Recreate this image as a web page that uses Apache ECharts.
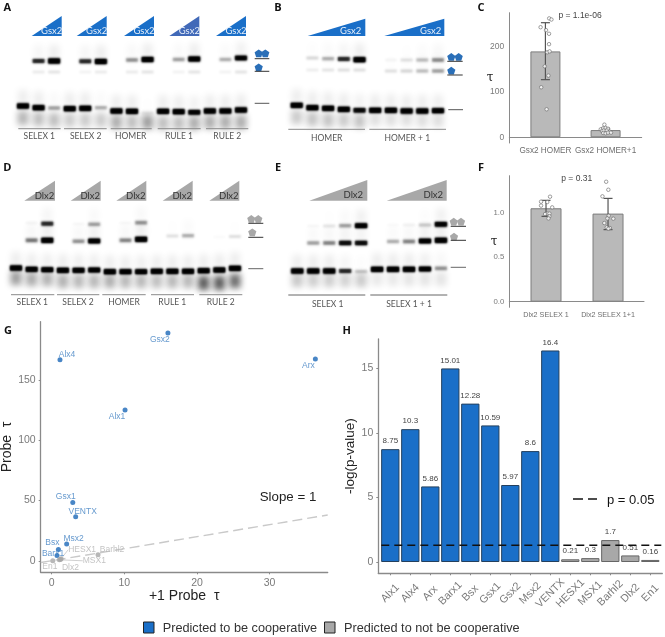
<!DOCTYPE html>
<html><head><meta charset="utf-8">
<style>html,body{margin:0;padding:0;background:#fff}#c{width:665px;height:637px}</style>
<script src="https://cdn.jsdelivr.net/npm/echarts@6/dist/echarts.min.js"></script>
</head><body><div id="c"></div>
<script>
// ---------- gel A ----------
const gelA_freeMig = [66,67.7,68,68.7,68.3,67.7,71,71.3,73,71.3,71.7,72.3,71,71,70];
const gelA_freeInt = [1,1,.35,1,1,.3,1,1,.08,1,1,.8,1,1,1];
const gelA_upperMig = [21,21,21,21,21.3,21.5,21,20,19.5,21,19.5,19,21,19.5,18];
const gelA_upperInt = [0,.55,1,0,.55,1,0,.4,1,0,.35,.95,0,.3,.8];
const gelA_lowerMig = [32,32,32,32,32,32,32,32,32,32,32,32,32,32,32];
const gelA_lowerInt = [0,.08,.1,0,.05,.08,0,.08,.1,0,.05,.1,0,.05,.1];
const gelA_smearMig = [78,79,80,80,80,80,82,82,82,83,83,83,82,82,82];
const gelA_smearInt = [.22,.2,.2,.16,.16,.16,.25,.2,.3,.2,.2,.25,.25,.25,.25];
// ---------- gel B ----------
const gelB_freeMig = [65.3,67.7,68.3,69.3,70.3,70.3,70.3,71,71,70.7];
const gelB_freeInt = [1,1,1,1,.75,1,1,1,1,.95];
const gelB_upperMig = [18,18,18.7,19,19.7,20,20,20,20,20];
const gelB_upperInt = [0,.15,.3,.55,1,0,.04,.12,.25,.42];
const gelB_lowerMig = [30,30,30,30,30,31,31,31,31,31];
const gelB_lowerInt = [0,.07,.1,.12,.12,0,.12,.16,.25,.35];
const gelB_smearMig = [77,79,80,80,81,79,79,79,80,80];
const gelB_smearInt = [.16,.18,.18,.16,.18,.1,.1,.1,.1,.1];
// ---------- gel D ----------
const gelD_freeMig = [68,69.3,69.7,70.3,70.3,70,71.7,71.7,71.7,71.3,71.3,71.3,70.7,70,68.3];
const gelD_freeInt = [1,.95,.9,1,.95,.9,1,.95,.9,1,1,1,1,1,1];
const gelD_midMig = [40,40.3,40.3,41,41.3,41,40,40.3,39.3,36,36,35.7,37,37,36.5];
const gelD_midInt = [0,.5,1,0,.4,.85,0,.45,1,0,.12,.3,0,.02,.12];
const gelD_topMig = [23,23,23.7,24,24,24.3,23,23,22.7,23,23,23,23,23,23];
const gelD_topInt = [0,.04,.55,0,.03,.35,0,.03,.4,0,0,0,0,0,0];
const gelD_smearMig = [78,79,79,81,81,81,81,81,81,81,81,81,83,83,81];
const gelD_smearInt = [.3,.26,.24,.24,.22,.22,.25,.22,.22,.2,.22,.22,.5,.5,.45];
// ---------- gel E ----------
const gelE_freeMig = [71,71,71,71,71.5,69.3,69.3,69.3,69,68.3];
const gelE_freeInt = [1,1,1,.55,.2,1,1,1,.85,.4];
const gelE_midMig = [43,43,43,43,43,41.5,41.5,41.5,41,40.3];
const gelE_midInt = [0,.35,.45,.7,.7,0,.3,.45,.85,1];
const gelE_topMig = [26,26,26,25.7,25.7,25,25,25,25,24.3];
const gelE_topInt = [0,.03,.1,.35,.85,0,.02,.05,.2,.8];
const gelE_smearMig = [80,80,80,80,80,79,79,79,79,79];
const gelE_smearInt = [.17,.15,.15,.14,.16,.07,.07,.08,.08,.08];
// ---------- panel C ----------
const cCategories = ['Gsx2 HOMER','Gsx2 HOMER+1'];
const cMeans = [190,16];
const cErrors = [[127.5,253.5],[12,20]];
const cPoints1 = [[1.063,263],[1.10,260.5],[.92,243.5],[1.01,237],[1.06,229],[1.06,206],[1.03,188],[1.07,190],[.99,157],[1.05,136.5],[.93,110.7],[1.02,62]];
const cPoints2 = [[1.98,28],[1.92,17.7],[1.96,20],[2,20.6],[2.04,19],[1.94,14],[1.97,14.8],[2.02,14.8],[2.07,12.5],[1.96,9.6],[2,8.9],[2.04,10.3],[2.09,10.3]];
// ---------- panel F ----------
const fCategories = ['Dlx2 SELEX 1','Dlx2 SELEX 1+1'];
const fMeans = [1.05,.99];
const fErrors = [[.959,1.139],[.81,1.161]];
const fPoints1 = [[1.065,1.18],[.92,1.124],[1.02,1.12],[.92,1.08],[1.1,1.06],[1.02,.99],[.985,.985],[1.055,.99],[1.055,.96],[1.04,.936]];
const fPoints2 = [[1.97,1.348],[2.005,1.258],[1.91,1.184],[2.01,.966],[2.085,.933],[1.94,.884],[1.99,.936],[1.98,.835],[2.03,.828],[2.005,.82]];
// ---------- panel G ----------
const gNames = ['Gsx2','Alx4','Arx','Alx1','Gsx1','VENTX','Msx2','Bsx','Barx1','HESX1','MSX1','Barhl2','Dlx2','En1'];
const gPlus1 = [16,1.14,36.3,10.1,2.9,3.3,2.06,.92,.73,1.3,1.05,6.38,1.2,.15];
const gProbe = [189.3,167,167.7,125.3,48.5,36.6,13.9,9.4,4.4,1.7,.8,5,1,0];
const gCooperative = [1,1,1,1,1,1,1,1,1,0,0,0,0,0];
const gSlopeLine = [[-1.5,-1.5],[38,38]];
// ---------- panel H ----------
const hCategories = ['Alx1','Alx4','Arx','Barx1','Bsx','Gsx1','Gsx2','Msx2','VENTX','HESX1','MSX1','Barhl2','Dlx2','En1'];
const hValues = [8.75,10.3,5.86,15.01,12.28,10.59,5.97,8.6,16.4,.21,.3,1.7,.51,.16];
const hThreshold = [[.55,1.3],[14.55,1.3]];

const BLUE='#1a6fc8', GREY='#a8a8a8';
const TICK='#7a7a7a', AXIS='#8a8a8a';
const gLabelOffsets=[[-8,7],[7,-5],[-7,7],[-8,7],[-7,-6],[7,-5],[7,-5],[-6,-7],[-4,-2],[21,-9],[35,1],[14,-5],[10,8],[-3,6]];
const gLeader={HESX1:1,MSX1:1};

function zip(...a){return a[0].map((_,i)=>a.map(r=>r[i]));}
const grids=[],xAxes=[],yAxes=[],series=[];
function addGrid(g,x,y){const i=grids.length;grids.push(Object.assign({outerBoundsMode:'none'},g));xAxes.push(Object.assign({gridIndex:i},x));yAxes.push(Object.assign({gridIndex:i},y));return i;}

// a purely blurred rectangle: only the (offset) shadow of an off-canvas shape lands on the canvas
const OFF=2000;
function softRect(cx,cy,w,h,a,blur){
  return {type:'rect',silent:true,shape:{x:cx-w/2-OFF,y:cy-h/2,width:w,height:h},
    style:{fill:'#000',shadowBlur:blur,shadowOffsetX:OFF,shadowColor:`rgba(0,0,0,${a})`}};
}
function bandItem(kind){return function(params,api){
  const p=api.coord([api.value(0),api.value(1)]),v=api.value(2);
  if(!(v>0))return null;
  const w=api.size([1,0])[0];
  if(kind==='smear'){
    return {type:'group',children:[
      softRect(p[0],p[1],w*.7,14,Math.min(1,v*1.3),6)]};
  }
  const a=Math.min(1,v*1.2);
  const kids=[softRect(p[0],p[1]-9,w*.6,14,v*.08,7),
    softRect(p[0],p[1],w*.76,2.6+2.6*Math.min(1,v),a,2.5)];
  if(v>.5)kids.push(softRect(p[0],p[1],w*.74,2.4+2.4*v,a,2));
  return {type:'group',children:kids};
};}
function addGel(left,spacing,top,height,layers,smear){
  const n=layers[0][0].length;
  const i=addGrid({left:left-spacing/2,width:n*spacing,top:top,height:height},
    {type:'value',min:.5,max:n+.5,show:false},
    {type:'value',min:0,max:height,inverse:true,show:false});
  const lane=Array.from({length:n},(_,k)=>k+1);
  series.push({type:'custom',xAxisIndex:i,yAxisIndex:i,clip:false,renderItem:bandItem('smear'),data:zip(lane,smear[0],smear[1]),silent:true});
  layers.forEach(l=>series.push({type:'custom',xAxisIndex:i,yAxisIndex:i,clip:false,renderItem:bandItem('band'),data:zip(lane,l[0],l[1]),silent:true}));
}
addGel(23,15.57,40,100,[[gelA_freeMig,gelA_freeInt],[gelA_upperMig,gelA_upperInt],[gelA_lowerMig,gelA_lowerInt]],[gelA_smearMig,gelA_smearInt]);
addGel(296.7,15.7,40,100,[[gelB_freeMig,gelB_freeInt],[gelB_upperMig,gelB_upperInt],[gelB_lowerMig,gelB_lowerInt]],[gelB_smearMig,gelB_smearInt]);
addGel(16,15.64,200,100,[[gelD_freeMig,gelD_freeInt],[gelD_midMig,gelD_midInt],[gelD_topMig,gelD_topInt]],[gelD_smearMig,gelD_smearInt]);
addGel(297.3,15.96,200,100,[[gelE_freeMig,gelE_freeInt],[gelE_midMig,gelE_midInt],[gelE_topMig,gelE_topInt]],[gelE_smearMig,gelE_smearInt]);

function errItem(color,cap){return function(p,api){
  const x=api.value(0),a=api.coord([x,api.value(1)]),b=api.coord([x,api.value(2)]);
  const st={stroke:color,lineWidth:1.2,fill:'none'};
  return {type:'group',children:[
    {type:'line',shape:{x1:a[0],y1:a[1],x2:b[0],y2:b[1]},style:st},
    {type:'line',shape:{x1:a[0]-cap,y1:a[1],x2:a[0]+cap,y2:a[1]},style:st},
    {type:'line',shape:{x1:b[0]-cap,y1:b[1],x2:b[0]+cap,y2:b[1]},style:st}]};
};}
function addBarPanel(grid,yMin,yMax,xMin,xMax,cats,means,errs,pts1,pts2,ticks,fmt,fs,tfs,barW){
  const i=addGrid(grid,
    {type:'value',min:xMin,max:xMax,splitLine:{show:false},axisLine:{lineStyle:{color:AXIS}},
     axisTick:{show:false},
     axisLabel:{customValues:[1,2],formatter:v=>cats[v-1],color:'#6e6e6e',fontSize:fs,fontFamily:'Liberation Sans',margin:4}},
    {type:'value',min:yMin,max:yMax,splitLine:{show:false},axisLine:{show:true,lineStyle:{color:AXIS}},
     axisTick:{show:false},
     axisLabel:{customValues:ticks,formatter:fmt,color:'#7a7a7a',fontSize:tfs,fontFamily:'Liberation Sans',margin:5}});
  series.push({type:'bar',xAxisIndex:i,yAxisIndex:i,barWidth:barW,data:means.map((m,k)=>[k+1,m]),
    itemStyle:{color:'#b9b9b9',borderColor:'#7d7d7d',borderWidth:1},silent:true});
  series.push({type:'custom',xAxisIndex:i,yAxisIndex:i,renderItem:errItem('#555',4.5),data:errs.map((e,k)=>[k+1,e[0],e[1]]),silent:true,z:4});
  series.push({type:'scatter',xAxisIndex:i,yAxisIndex:i,symbolSize:3.5,data:pts1.concat(pts2),
    itemStyle:{color:'#fff',borderColor:'#6a6a6a',borderWidth:.8},silent:true,z:5});
}
addBarPanel({left:509.3,width:132.4,top:12.7,height:130.3},-12.6,275.6,.4,2.6,cCategories,cMeans,cErrors,cPoints1,cPoints2,[0,100,200],v=>String(v),8.2,8.5,30);
addBarPanel({left:509.3,width:134.7,top:175.7,height:131.6},-.063,1.416,.408,2.58,fCategories,fMeans,fErrors,fPoints1,fPoints2,[0,.5,1],v=>v.toFixed(1),7.2,7.8,31);

// G
const gi=addGrid({left:40.7,width:287,top:321.7,height:250.6},
  {type:'value',min:-1.515,max:38,splitLine:{show:false},axisLine:{onZero:false,lineStyle:{color:AXIS,width:1.3}},
   axisTick:{customValues:[0,10,20,30],length:2,lineStyle:{color:AXIS}},
   axisLabel:{customValues:[0,10,20,30],color:TICK,fontSize:10.5,fontFamily:'Liberation Sans',margin:5},
   name:'+1 Probe  τ',nameLocation:'middle',nameGap:16,nameTextStyle:{fontSize:14,color:'#222',fontFamily:'Liberation Sans'}},
  {type:'value',min:-9.6,max:198.7,splitLine:{show:false},axisLine:{show:true,onZero:false,lineStyle:{color:AXIS,width:1.3}},
   axisTick:{customValues:[0,50,100,150],length:2,lineStyle:{color:AXIS}},
   axisLabel:{customValues:[0,50,100,150],color:TICK,fontSize:10.5,fontFamily:'Liberation Sans',margin:5},
   name:'Probe  τ',nameLocation:'middle',nameGap:22,nameTextStyle:{fontSize:14,color:'#222',fontFamily:'Liberation Sans'}});
series.push({type:'line',xAxisIndex:gi,yAxisIndex:gi,data:gSlopeLine,symbol:'none',silent:true,z:1,
  lineStyle:{color:'#c9c9c9',width:1.4,type:[10,5]}});
series.push({type:'scatter',xAxisIndex:gi,yAxisIndex:gi,symbolSize:5,silent:true,z:3,
  labelLayout:p=>({dx:gLabelOffsets[p.dataIndex][0],dy:gLabelOffsets[p.dataIndex][1]}),
  labelLine:{show:false},
  data:gNames.map((n,k)=>({value:[gPlus1[k],gProbe[k]],name:n,
    itemStyle:{color:gCooperative[k]?'#1c68b8':'#a6a6a6'},
    labelLine:{show:!!gLeader[n],lineStyle:{color:'#c4c4c4',width:.8}},
    label:{show:true,position:'inside',formatter:n,fontSize:8.5,
      fontFamily:'Liberation Sans',color:gCooperative[k]?'#3f7fc2':'#b4b4b4'}}))});

// H
const hTicks=hCategories.map((_,k)=>k+1);
const hi=addGrid({left:378.3,width:284,top:339,height:234.3},
  {type:'value',min:.4,max:14.6,splitLine:{show:false},axisLine:{onZero:false,lineStyle:{color:AXIS,width:1.3}},
   axisTick:{customValues:hTicks,length:2,lineStyle:{color:AXIS}},
   axisLabel:{customValues:hTicks,formatter:v=>hCategories[v-1],rotate:45,align:'center',verticalAlign:'middle',margin:20,color:TICK,fontSize:10.8,fontFamily:'Liberation Sans'}},
  {type:'value',min:-.876,max:17.29,splitLine:{show:false},axisLine:{show:true,onZero:false,lineStyle:{color:AXIS,width:1.3}},
   axisTick:{customValues:[0,5,10,15],length:2,lineStyle:{color:AXIS}},
   axisLabel:{customValues:[0,5,10,15],color:TICK,fontSize:10.5,fontFamily:'Liberation Sans',margin:5},
   name:'-log(p-value)',nameLocation:'middle',nameGap:15,nameTextStyle:{fontSize:13.5,color:'#222',fontFamily:'Liberation Sans'}});
series.push({type:'bar',xAxisIndex:hi,yAxisIndex:hi,barWidth:18.3,silent:true,z:2,
  data:hValues.map((v,k)=>({value:[k+1,v],itemStyle:k<9?{color:BLUE,borderColor:'#24405e',borderWidth:1}:{color:GREY,borderColor:'#666',borderWidth:1}})),
  label:{show:true,position:'top',distance:4,formatter:p=>String(p.value[1]),fontSize:8,color:'#444',fontFamily:'Liberation Sans'}});
series.push({type:'line',xAxisIndex:hi,yAxisIndex:hi,data:hThreshold,symbol:'none',silent:true,z:4,
  lineStyle:{color:'#111',width:1.5,type:[8,5]}});

// ---------- annotations ----------
const g=[];
const FONT='Lato';
function txt(x,y,s,o){g.push({type:'text',silent:true,z:50,style:Object.assign({x:x,y:y,text:s,align:'center',verticalAlign:'middle',fontFamily:FONT,fontSize:8.5,fill:'#555'},o||{})});}
function line(x1,x2,y,c,w,dash){g.push({type:'line',silent:true,z:40,shape:{x1:x1,y1:y,x2:x2,y2:y},style:{stroke:c||'#8a8a8a',lineWidth:w||1,lineDash:dash||null}});}
function tri(x1,x2,yt,yb,c,label,lx,ly,lc){
  g.push({type:'polygon',silent:true,z:40,shape:{points:[[x1,yb],[x2,yt],[x2,yb]]},style:{fill:c}});
  txt(lx,ly,label,{fill:lc,fontSize:9.5});
}
function pent(cx,cy,r,c){
  const pts=[];for(let k=0;k<5;k++){const a=-Math.PI/2+k*2*Math.PI/5;pts.push([cx+r*Math.cos(a),cy+r*Math.sin(a)]);}
  g.push({type:'polygon',silent:true,z:40,shape:{points:pts},style:{fill:c}});
}
// A
[[31.7,61.7],[76.7,106.7],[124,154],[169.3,199.3],[216,246]].forEach((t,k)=>tri(t[0],t[1],16,36,k==3?'#4169b8':BLUE,'Gsx2',t[1]-10,30.7,'#e8f0fa'));
[[18.3,60.7],[64,106.7],[110.7,151.7],[157.7,200.7],[206,248.3]].forEach(s=>line(s[0],s[1],128.7));
[['SELEX 1',39.3],['SELEX 2',85.7],['HOMER',130.7],['RULE 1',179],['RULE 2',227.3]].forEach(l=>txt(l[1],136.3,l[0]));
pent(258.7,53.7,4.3,'#2a6fb8');pent(265.3,53.7,4.3,'#2a6fb8');line(254.7,269.3,58.7,'#333');
pent(258.7,67.7,4.3,'#2a6fb8');line(254.7,269.3,71.3,'#333');line(254.7,269.3,103.3,'#555');
// B
tri(307.7,365.3,18.7,36,BLUE,'Gsx2',350.7,30.7,'#e8f0fa');tri(384.3,444.3,18.7,36,BLUE,'Gsx2',430.7,30.7,'#e8f0fa');
line(288.3,365,129.3);line(369.3,446,129.3);
txt(326.7,138.7,'HOMER');txt(407.3,138.7,'HOMER + 1');
pent(451.3,57.3,4.3,'#2a6fb8');pent(458.7,57.3,4.3,'#2a6fb8');line(447.3,462.7,61.3,'#333');
pent(451.3,71,4.3,'#2a6fb8');line(447.3,462.7,75,'#333');line(448.3,463,109.7,'#555');
// D
[[24.3,55],[70.7,100.7],[116.3,146.3],[162.7,192.7],[209.3,239.3]].forEach(t=>tri(t[0],t[1],180.7,200.7,GREY,'Dlx2',t[1]-10.5,196,'#333'));
[[11,54.3],[57,99.3],[102.3,145.7],[151,194],[199.3,242.3]].forEach(s=>line(s[0],s[1],294.7));
[['SELEX 1',32.3],['SELEX 2',78],['HOMER',124],['RULE 1',172.3],['RULE 2',220.7]].forEach(l=>txt(l[1],302,l[0]));
pent(251.3,219.3,4.3,GREY);pent(258.3,219.3,4.3,GREY);line(248.3,263.3,223.3,'#333');
pent(252.3,232.7,4.3,GREY);line(248.3,263.3,237.3,'#333');line(248.3,263.3,268.7,'#666');
// E
tri(309.3,367.3,180,200.7,GREY,'Dlx2',353.3,195.3,'#333');tri(386.7,446.7,180,200.7,GREY,'Dlx2',433.3,195.3,'#333');
line(288.3,365.3,295,'#666');line(370.3,447.3,295,'#666');
txt(327.7,304,'SELEX 1');txt(409,304,'SELEX 1 + 1');
pent(453.7,222,4.3,GREY);pent(461,222,4.3,GREY);line(450.7,466,226.3,'#333');
pent(454,237,4.3,GREY);line(450.7,466,240.3,'#333');line(450.7,466,267.3,'#666');
// panel letters
[['A',7.3,7.5],['B',278,7.5],['C',481,7.5],['D',7.3,167.5],['E',278,167.5],['F',481,167.5],['G',8,331],['H',346.7,331]].forEach(l=>
  txt(l[1],l[2],l[0],{fontFamily:'Open Sans',fontWeight:700,fontSize:11,fill:'#111'}));
// C / F
txt(580,15.7,'p = 1.1e-06',{fontFamily:'Liberation Sans',fontSize:8.5,fill:'#444'});
txt(490,78,'τ',{fontFamily:'DejaVu Serif',fontSize:12,fill:'#222'});
txt(576.7,179,'p = 0.31',{fontFamily:'Liberation Sans',fontSize:8.5,fill:'#444'});
txt(494,241.7,'τ',{fontFamily:'DejaVu Serif',fontSize:12,fill:'#222'});
// G / H annotations
txt(288,497.7,'Slope = 1',{fontFamily:'Liberation Sans',fontSize:13.3,fill:'#222'});
line(573,583,499,'#111',1.5);line(588,597,499,'#111',1.5);
txt(630.7,500,'p = 0.05',{fontFamily:'Liberation Sans',fontSize:13,fill:'#111'});
// legend
g.push({type:'rect',silent:true,z:40,shape:{x:143.5,y:622,width:10.5,height:11},style:{fill:BLUE,stroke:'#222',lineWidth:1}});
txt(162.7,628,'Predicted to be cooperative',{fontFamily:'Liberation Sans',fontSize:12.7,fill:'#333',align:'left'});
g.push({type:'rect',silent:true,z:40,shape:{x:324.5,y:622,width:10.5,height:11},style:{fill:GREY,stroke:'#222',lineWidth:1}});
txt(344,628,'Predicted to not be cooperative',{fontFamily:'Liberation Sans',fontSize:12.7,fill:'#333',align:'left'});

const chart=echarts.init(document.getElementById('c'),null,{renderer:'canvas'});
chart.setOption({animation:false,backgroundColor:'#fff',tooltip:{show:false},grid:grids,xAxis:xAxes,yAxis:yAxes,series:series,graphic:{elements:g}});
</script></body></html>
